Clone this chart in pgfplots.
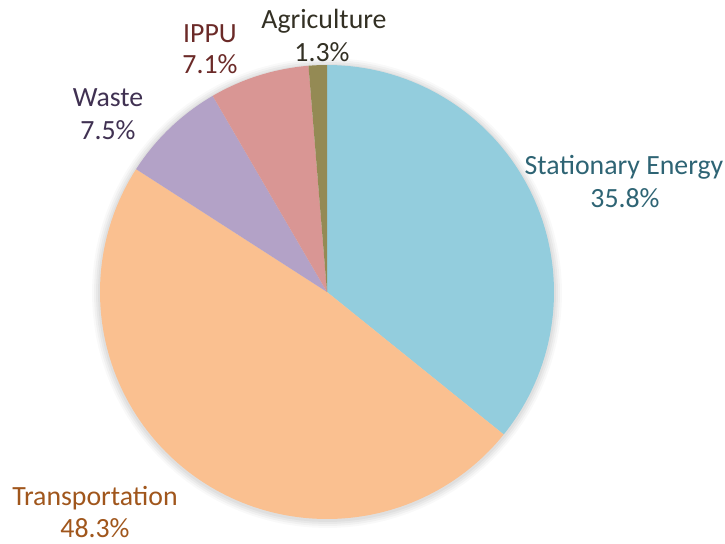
\documentclass[border=0pt]{standalone}
\usepackage{fontspec}
\setmainfont{Carlito}
\usepackage{pgfplots}
\pgfplotsset{compat=1.18}
\definecolor{cStat}{HTML}{93CDDD}
\definecolor{cTrans}{HTML}{FAC090}
\definecolor{cWaste}{HTML}{B3A2C7}
\definecolor{cIPPU}{HTML}{D99694}
\definecolor{cAgri}{HTML}{948A54}
\definecolor{tStat}{HTML}{2E6474}
\definecolor{tTrans}{HTML}{A0561C}
\definecolor{tWaste}{HTML}{403152}
\definecolor{tIPPU}{HTML}{6B2A28}
\definecolor{tAgri}{HTML}{333024}
% shares (percent), clockwise from 12 o'clock
\def\vStat{35.8}
\def\vTrans{48.3}
\def\vWaste{7.5}
\def\vIPPU{7.1}
\def\vAgri{1.3}
\pgfmathsetmacro{\aA}{90}
\pgfmathsetmacro{\aB}{\aA-3.6*\vStat}
\pgfmathsetmacro{\aC}{\aB-3.6*\vTrans}
\pgfmathsetmacro{\aD}{\aC-3.6*\vWaste}
\pgfmathsetmacro{\aE}{\aD-3.6*\vIPPU}
\pgfmathsetmacro{\aF}{\aE-3.6*\vAgri}
\def\cx{327}\def\cy{251}\def\R{227}
\begin{document}
\begin{tikzpicture}
\begin{axis}[
  scale only axis, width=362.5pt, height=271.5pt,
  xmin=0, xmax=725, ymin=0, ymax=543,
  hide axis, clip=false,
  every axis plot/.append style={samples=120, variable=\t},
]
\path (axis cs:0,0) rectangle (axis cs:725,543);
% soft shadow
\addplot[fill=black, fill opacity=0.025, draw=none, domain=0:360] ({\cx+(\R+8)*cos(t)},{\cy-1+(\R+8)*sin(t)}) -- cycle;
\addplot[fill=black, fill opacity=0.03, draw=none, domain=0:360] ({\cx+(\R+6)*cos(t)},{\cy-1+(\R+6)*sin(t)}) -- cycle;
\addplot[fill=black, fill opacity=0.035, draw=none, domain=0:360] ({\cx+(\R+4)*cos(t)},{\cy-1+(\R+4)*sin(t)}) -- cycle;
\addplot[fill=black, fill opacity=0.04, draw=none, domain=0:360] ({\cx+(\R+2)*cos(t)},{\cy-1+(\R+2)*sin(t)}) -- cycle;
\addplot[fill=cStat, draw=none, domain=\aB:\aA] ({\cx+\R*cos(t)},{\cy+\R*sin(t)}) -- (axis cs:\cx,\cy) -- cycle;
\addplot[fill=cTrans, draw=none, domain=\aC:\aB] ({\cx+\R*cos(t)},{\cy+\R*sin(t)}) -- (axis cs:\cx,\cy) -- cycle;
\addplot[fill=cWaste, draw=none, domain=\aD:\aC] ({\cx+\R*cos(t)},{\cy+\R*sin(t)}) -- (axis cs:\cx,\cy) -- cycle;
\addplot[fill=cIPPU, draw=none, domain=\aE:\aD] ({\cx+\R*cos(t)},{\cy+\R*sin(t)}) -- (axis cs:\cx,\cy) -- cycle;
\addplot[fill=cAgri, draw=none, domain=\aF:\aE, samples=10] ({\cx+\R*cos(t)},{\cy+\R*sin(t)}) -- (axis cs:\cx,\cy) -- cycle;
% labels
\tikzset{lab/.style={anchor=base, font=\fontsize{13.9pt}{16pt}\selectfont, inner sep=0pt}}
\node[lab, text=tStat] at (axis cs:624,369) {Stationary Energy};
\node[lab, text=tStat] at (axis cs:625,336) {35.8\%};
\node[lab, text=tTrans] at (axis cs:95,38) {Transportation};
\node[lab, text=tTrans] at (axis cs:95,6) {48.3\%};
\node[lab, text=tWaste] at (axis cs:108,437) {Waste};
\node[lab, text=tWaste] at (axis cs:108,404) {7.5\%};
\node[lab, text=tIPPU] at (axis cs:210,501) {IPPU};
\node[lab, text=tIPPU] at (axis cs:210,470) {7.1\%};
\node[lab, text=tAgri] at (axis cs:324,515) {Agriculture};
\node[lab, text=tAgri] at (axis cs:322,482) {1.3\%};
\end{axis}
\end{tikzpicture}
\end{document}
